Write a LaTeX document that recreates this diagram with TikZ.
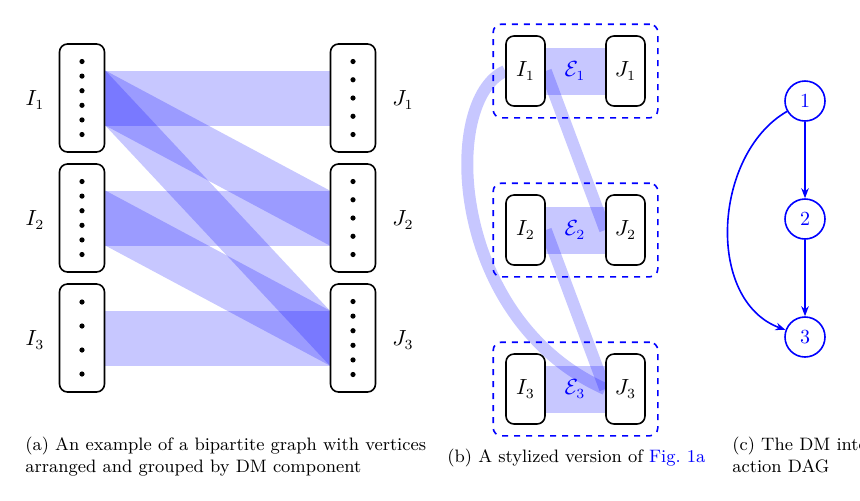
\documentclass[tikz,border=0pt]{standalone}
\usetikzlibrary{positioning,fit,backgrounds,arrows.meta,calc}

\tikzset{
  part/.style={draw,thick,rounded corners=4pt,fill=white,minimum width=22.5pt,minimum height=54pt,inner sep=0pt},
  sbox/.style={draw,thick,rounded corners=4pt,fill=white,minimum width=19.5pt,minimum height=35pt,inner sep=0pt,font=\fontsize{10.5}{12}\selectfont},
  grp/.style={draw=blue,dashed,thick,rounded corners=4pt,inner xsep=6pt,inner ysep=5.5pt},
  band/.style={fill=blue,fill opacity=0.22},
  link/.style={draw=blue,opacity=0.22,line width=6pt},
  dagnode/.style={draw=blue,text=blue,circle,thick,minimum size=20pt,inner sep=0pt,font=\fontsize{10}{12}\selectfont},
  dagedge/.style={draw=blue,thick,-{Stealth[length=5pt]}},
  dot/.style={circle,fill=black,inner sep=0pt,minimum size=2.6pt},
  side/.style={font=\fontsize{10.5}{12}\selectfont},
}

\newcommand{\band}[2]{%
  \fill[band] ($(#1.east)+(0,-27.5)$) -- ($(#2.west)+(0,-27.5)$)
      -- ($(#2.west)+(0,27.5)$) -- ($(#1.east)+(0,27.5)$) -- cycle;}

\begin{document}
\begin{tikzpicture}[x=0.5pt,y=-0.5pt,font=\fontsize{9}{11}\selectfont]
\useasboundingbox (0,0) rectangle (860,500);

% (a) bipartite graph
\node[part] (I1) at (82,98) {};
\node[part] (I2) at (82,218) {};
\node[part] (I3) at (82,338) {};
\node[part] (J1) at (353,98) {};
\node[part] (J2) at (353,218) {};
\node[part] (J3) at (353,338) {};
\foreach \b in {I1,I2,J3}
  \foreach \k in {0,...,5} \node[dot] at ($(\b)+(0,-36.5+14.6*\k)$) {};
\foreach \b in {J1,J2}
  \foreach \k in {0,...,4} \node[dot] at ($(\b)+(0,-36.5+18.25*\k)$) {};
\foreach \k in {0,...,3} \node[dot] at ($(I3)+(0,-36+24*\k)$) {};
\node[side] (lI1) at (35,100) {$I_1$};
\node[side] (lI2) at (35,220) {$I_2$};
\node[side] (lI3) at (35,340) {$I_3$};
\node[side] (lJ1) at (403,100) {$J_1$};
\node[side] (lJ2) at (403,220) {$J_2$};
\node[side] (lJ3) at (403,340) {$J_3$};
\begin{scope}[on background layer]
  \band{I1}{J1} \band{I1}{J2} \band{I1}{J3}
  \band{I2}{J2} \band{I2}{J3} \band{I3}{J3}
\end{scope}
\node[anchor=north west,align=left,inner sep=0pt] (capa) at (25,437)
  {(a) An example of a bipartite graph with vertices\\arranged and grouped by DM component};

% (b) stylized version
\foreach \i/\y in {1/71,2/230,3/389} {
  \node[sbox] (bI\i) at (525.5,\y) {$I_\i$};
  \node[sbox] (bJ\i) at (625.5,\y) {$J_\i$};
  \node[grp,fit=(bI\i)(bJ\i)] (G\i) {};
  \begin{scope}[on background layer]
    \fill[band] ($(bI\i.east)+(0,-23.5)$) rectangle ($(bJ\i.west)+(0,23.5)$);
  \end{scope}
  \node[text=blue,side] (E\i) at (575,\y) {$\mathcal{E}_\i$};
}
\begin{scope}[on background layer]
  \draw[link] (bI1.east) -- (bJ2.west);
  \draw[link] (bI2.east) -- (bJ3.west);
  \draw[link] (bI1.west) .. controls (440,100) and (450,320) .. (bJ3.west);
\end{scope}
\node[anchor=north west,inner sep=0pt] (capb) at (447,449)
  {(b) A stylized version of \textcolor{blue}{Fig.~1a}};

% (c) interaction DAG
\node[dagnode] (n1) at (805,101) {1};
\node[dagnode] (n2) at (805,219) {2};
\node[dagnode] (n3) at (805,337) {3};
\draw[dagedge] (n1) -- (n2);
\draw[dagedge] (n2) -- (n3);
\draw[dagedge] (n1) to[out=210,in=160] (n3);
\node[anchor=north west,align=left,inner sep=0pt] (capc) at (732,437)
  {(c) The DM inter-\\action DAG};
\end{tikzpicture}
\end{document}
